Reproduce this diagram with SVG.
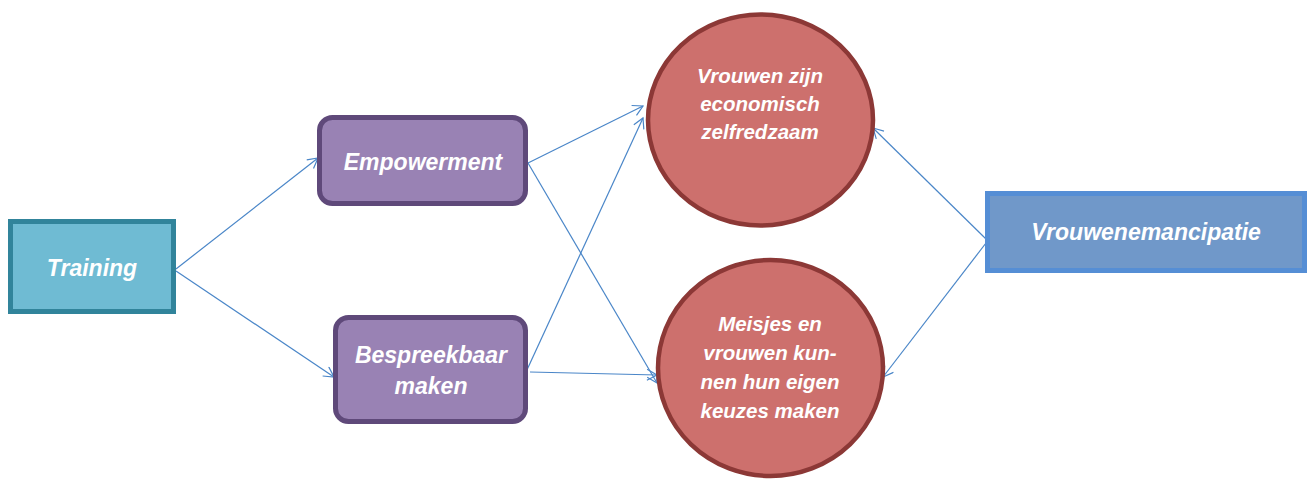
<svg xmlns="http://www.w3.org/2000/svg" width="1311" height="479" viewBox="0 0 1311 479">
<style>
.lbl{font-family:"Liberation Sans",Arial,sans-serif;font-weight:bold;font-style:italic;fill:#ffffff;text-anchor:middle;dominant-baseline:central}
.box{font-size:23px}
.circ{font-size:20.5px}
.conn{stroke:#4A86C8;stroke-width:1.2;fill:none;marker-end:url(#arr)}
</style>
<defs>
<marker id="arr" markerUnits="userSpaceOnUse" markerWidth="14" markerHeight="14" refX="11" refY="6" orient="auto">
<path d="M1,0.5 L11,6 L1,11.5" fill="none" stroke="#4A86C8" stroke-width="1.2"/>
</marker>
</defs>
<rect width="1311" height="479" fill="#ffffff"/>
<g id="connectors">
<line class="conn" x1="176" y1="269" x2="318" y2="158"/>
<line class="conn" x1="176" y1="271" x2="334" y2="377"/>
<line class="conn" x1="528" y1="163" x2="643" y2="106"/>
<line class="conn" x1="528" y1="163" x2="657" y2="383"/>
<line class="conn" x1="526" y1="372" x2="643" y2="118"/>
<line class="conn" x1="530" y1="372" x2="657" y2="375"/>
<line class="conn" x1="986" y1="239" x2="873" y2="128"/>
<line class="conn" x1="986" y1="243" x2="883" y2="377"/>
</g>
<g id="training">
<rect x="10.5" y="221.5" width="163" height="90" fill="#6FBBD3" stroke="#31849B" stroke-width="5"/>
<text class="lbl box" x="92" y="268">Training</text>
</g>
<g id="empowerment">
<rect x="319.5" y="117.5" width="206" height="86" rx="13" fill="#9982B4" stroke="#5F497A" stroke-width="5"/>
<text class="lbl box" x="423" y="162">Empowerment</text>
</g>
<g id="bespreekbaar">
<rect x="335.5" y="317.5" width="190" height="104" rx="13" fill="#9982B4" stroke="#5F497A" stroke-width="5"/>
<text class="lbl box" x="431" y="355">Bespreekbaar</text>
<text class="lbl box" x="431" y="386">maken</text>
</g>
<g id="economisch">
<ellipse cx="760.5" cy="120" rx="112.5" ry="105.5" fill="#CD706D" stroke="#8C3836" stroke-width="4.5"/>
<text class="lbl circ" x="760" y="75">Vrouwen zijn</text>
<text class="lbl circ" x="760" y="103">economisch</text>
<text class="lbl circ" x="760" y="131">zelfredzaam</text>
</g>
<g id="keuzes">
<ellipse cx="770.5" cy="368" rx="112.5" ry="108" fill="#CD706D" stroke="#8C3836" stroke-width="4.5"/>
<text class="lbl circ" x="770" y="323">Meisjes en</text>
<text class="lbl circ" x="770" y="352">vrouwen kun-</text>
<text class="lbl circ" x="770" y="381">nen hun eigen</text>
<text class="lbl circ" x="770" y="410">keuzes maken</text>
</g>
<g id="vrouwenemancipatie">
<rect x="987.5" y="193.5" width="317" height="77" fill="#7098C9" stroke="#558ED5" stroke-width="5"/>
<text class="lbl box" x="1146" y="232">Vrouwenemancipatie</text>
</g>
</svg>
